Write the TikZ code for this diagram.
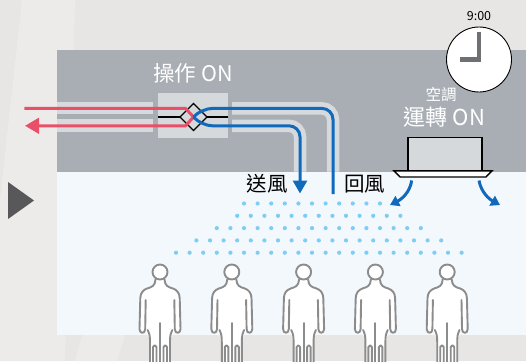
\documentclass[tikz,border=0pt]{standalone}
\usepackage{fontspec}
\setmainfont{Noto Sans CJK TC}
\usetikzlibrary{arrows.meta}

\definecolor{bgbase}{HTML}{E7E6E4}
\definecolor{bglight}{HTML}{ECEBE9}
\definecolor{ceiling}{HTML}{A8AEB4}
\definecolor{room}{HTML}{F3F8FD}
\definecolor{duct}{HTML}{D6DADD}
\definecolor{unitgrey}{HTML}{D5D9DC}
\definecolor{hot}{HTML}{E95068}
\definecolor{cool}{HTML}{1169BC}
\definecolor{dotblue}{HTML}{7FCDF3}
\definecolor{person}{HTML}{8C8C8C}
\definecolor{hand}{HTML}{6E7073}
\definecolor{playtri}{HTML}{58585B}

\tikzset{
  lbl/.style={inner sep=0pt, font=\fontsize{#1}{#1}\selectfont},
  ductband/.style={draw=duct, line width=12.5pt, rounded corners=11pt},
  hotline/.style={draw=hot, line width=3pt},
  coolline/.style={draw=cool, line width=3pt, rounded corners=11pt},
  blowarrow/.style={draw=cool, line width=3pt, -{Triangle[width=11pt,length=9pt]}},
  figline/.style={draw=person, line width=1.9pt, line cap=round, line join=round},
  outline/.style={draw=black, line width=1.4pt},
}

\begin{document}
\begin{tikzpicture}[x=1pt,y=-1pt]
\useasboundingbox (0,0) rectangle (526,361);

% backdrop
\fill[bgbase] (0,0) rectangle (526,361);
\fill[bglight] (22,0) -- (75,0) -- (65,361) -- (0,361) -- (0,200) -- cycle;
\fill[bglight] (82,335) -- (125,335) -- (117,361) -- (75,361) -- cycle;

% ceiling void and room
\fill[ceiling] (57,50.3) rectangle (526,171.5);
\fill[room] (57,171.5) rectangle (526,335);

% play marker
\fill[playtri] (8,182) -- (34,200.5) -- (8,219) -- cycle;

% ducts
\draw[ductband] (57,108) -- (153,108);
\draw[ductband] (57,125.5) -- (153,125.5);
\draw[ductband] (232,108.4) -- (333,108.4) -- (333,171.5);
\draw[ductband] (232,125.8) -- (300,125.8) -- (300,171.5);

% heat exchanger unit
\node (hrv) [fill=unitgrey, minimum width=70.5pt, minimum height=45pt, inner sep=0pt] at (193,115.5) {};
\node (hrvlabel) [lbl=21.5pt, text=white] at (193,73) {操作 ON};
\coordinate (xc) at (193.5,117);
\coordinate (dl) at (180,117);
\coordinate (dr) at (207,117);
\draw[black, line width=1.4pt] (hrv.west |- xc) -- (dl);
\draw[black, line width=1.4pt] (dr) -- (hrv.east |- xc);
\draw[outline] (dl) -- (193.5,103.5) -- (dr) -- (193.5,130.5) -- cycle;

% outdoor air in and exhaust out
\coordinate (oain) at (24.3,108.4);
\coordinate (eaout) at (25,125.8);
\draw[hotline] (oain) -- (185.5,108.4) -- (xc);
\draw[hotline, -{Triangle[width=15.5pt,length=14pt]}] (xc) -- (185.5,125.8) -- (eaout);

% supply and return air
\coordinate (sa) at (300,193.5);
\coordinate (ra) at (333,194);
\draw[coolline] (xc) -- (201.5,108.4) -- (333,108.4) -- (ra);
\draw[coolline, -{Triangle[width=14pt,length=13pt]}] (xc) -- (201.5,125.8) -- (300,125.8) -- (sa);
\node (salabel) [lbl=20.5pt] at (267,184) {送風};
\node (ralabel) [lbl=20.5pt] at (364.5,184) {回風};

% air conditioner
\node (aclabel1) [lbl=15.5pt, text=white] at (441,95) {空調};
\node (aclabel2) [lbl=22pt, text=white] at (444.5,117) {運轉 ON};
\node (ac) [fill=unitgrey, draw=black, line width=1.4pt, minimum width=74pt, minimum height=33pt, inner sep=0pt] at (445,153.7) {};
\draw[outline, fill=white] (394,170.8) -- (492,170.8) -- (486,177) -- (400,177) -- cycle;
\coordinate (acl) at (411.7,180.5);
\coordinate (acr) at (479,180.5);
\coordinate (acltip) at (390,205);
\coordinate (acrtip) at (500,205);
\draw[blowarrow] (acl) .. controls (410,192) and (402,199) .. (acltip);
\draw[blowarrow] (acr) .. controls (481,192) and (489,199) .. (acrtip);

% clock
\node (clock) [circle, draw=black, fill=white, line width=0.9pt, minimum size=65pt, inner sep=0pt] at (479,59.5) {};
\draw[draw=hand, line width=4.5pt, line join=miter] (479,32) -- (clock.center) -- (460,59.5);
\node (time) [lbl=12.5pt] at (479,16.5) {9:00};

% airflow dots
\foreach \r/\off/\n in {0/5/10, 1/4.5/12, 2/3/15, 3/1.5/18, 4/0/21} {
  \foreach \k in {0,...,\n} {
    \fill[dotblue] ({176+(\k+\off)*13.6}, {203.5+\r*12.3}) circle (2.1pt);
  }
}

% occupants
\foreach \cx in {160,231.8,303.6,375.4,447.2} {
  \fill[white] (\cx-4.5,279) .. controls (\cx-5,286) and (\cx-8,287) .. (\cx-13,288.5)
    .. controls (\cx-17,290) and (\cx-19.5,293) .. (\cx-19.7,298) -- (\cx-20.5,329)
    .. controls (\cx-20.5,334) and (\cx-14.8,334) .. (\cx-14.8,329) -- (\cx-12,336) -- (\cx-10,340) -- (\cx-10,361)
    -- (\cx+10,361) -- (\cx+10,340) -- (\cx+12,336) -- (\cx+14.8,329)
    .. controls (\cx+14.8,334) and (\cx+20.5,334) .. (\cx+20.5,329) -- (\cx+19.7,298)
    .. controls (\cx+19.5,293) and (\cx+17,290) .. (\cx+13,288.5)
    .. controls (\cx+8,287) and (\cx+5,286) .. (\cx+4.5,279) -- cycle;
  \draw[figline, fill=white] (\cx,272) circle (7.5pt);
  \draw[figline] (\cx-4.5,279.5) .. controls (\cx-5,286) and (\cx-8,287) .. (\cx-13,288.5)
    .. controls (\cx-17,290) and (\cx-19.5,293) .. (\cx-19.7,298) -- (\cx-20.5,329)
    .. controls (\cx-20.5,334) and (\cx-14.8,334) .. (\cx-14.8,329) -- (\cx-14.3,300);
  \draw[figline] (\cx+4.5,279.5) .. controls (\cx+5,286) and (\cx+8,287) .. (\cx+13,288.5)
    .. controls (\cx+17,290) and (\cx+19.5,293) .. (\cx+19.7,298) -- (\cx+20.5,329)
    .. controls (\cx+20.5,334) and (\cx+14.8,334) .. (\cx+14.8,329) -- (\cx+14.3,300);
  \draw[figline] (\cx-12.3,330) .. controls (\cx-10.5,334) and (\cx-10,336) .. (\cx-10,342) -- (\cx-10,362);
  \draw[figline] (\cx+12.3,330) .. controls (\cx+10.5,334) and (\cx+10,336) .. (\cx+10,342) -- (\cx+10,362);
  \draw[figline] (\cx,323) -- (\cx,362);
  \draw[figline] (\cx-7,362) -- (\cx-7,347) arc (180:0:1.75pt) -- (\cx-3.5,362);
  \draw[figline] (\cx+3.5,362) -- (\cx+3.5,347) arc (180:0:1.75pt) -- (\cx+7,362);
}
\end{tikzpicture}
\end{document}
